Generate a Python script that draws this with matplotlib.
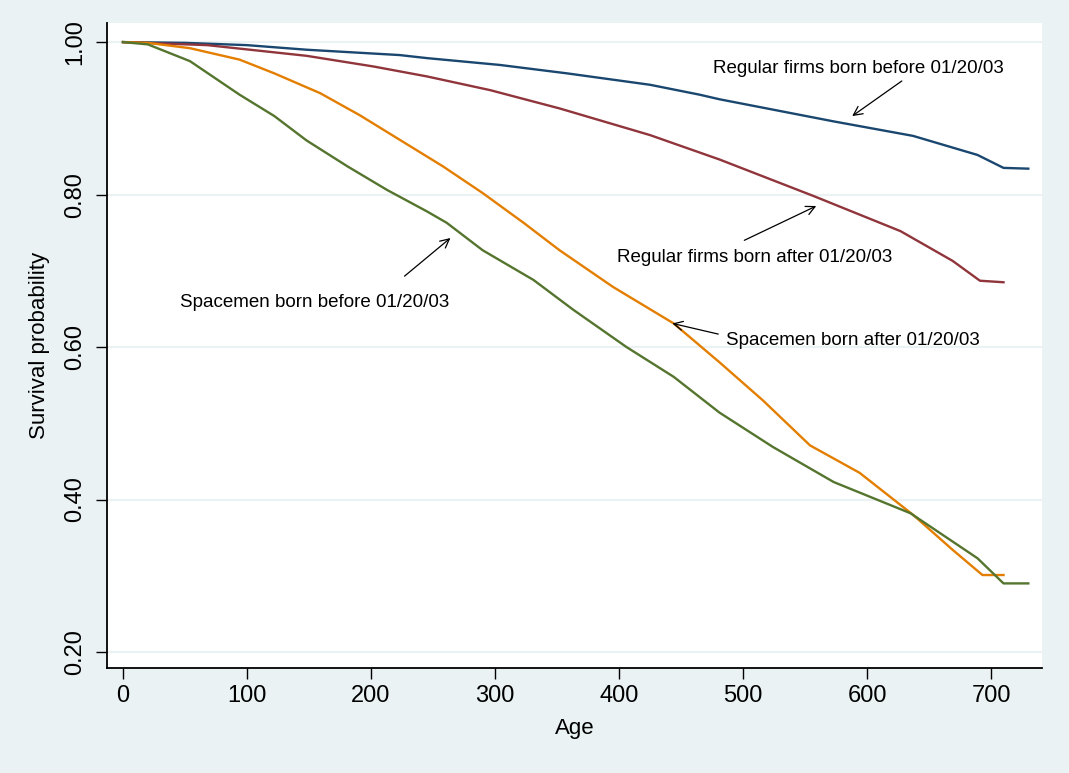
import matplotlib
matplotlib.use("Agg")
import matplotlib.pyplot as plt

plt.rcParams['font.family'] = ['Liberation Sans', 'DejaVu Sans']

# Kaplan-Meier survival estimates
reg_before_age = [0, 50, 100, 148, 223, 245, 304, 358, 425, 465, 481, 573, 637, 689, 710, 730]
reg_before_s = [1.0, 0.999, 0.996, 0.990, 0.983, 0.979, 0.970, 0.959, 0.944, 0.931, 0.925,
                0.896, 0.877, 0.852, 0.835, 0.834]

reg_after_age = [0, 68, 148, 202, 245, 296, 352, 425, 481, 557, 627, 669, 691, 710]
reg_after_s = [1.0, 0.996, 0.982, 0.968, 0.955, 0.937, 0.913, 0.878, 0.846, 0.798, 0.752,
               0.713, 0.687, 0.685]

space_after_age = [0, 20, 54, 94, 122, 159, 191, 218, 258, 290, 323, 352, 395, 444, 481, 516,
                   554, 594, 637, 669, 693, 710]
space_after_s = [1.0, 0.999, 0.992, 0.977, 0.959, 0.933, 0.904, 0.877, 0.837, 0.802, 0.763,
                 0.727, 0.679, 0.631, 0.580, 0.530, 0.471, 0.435, 0.380, 0.334, 0.301, 0.301]

space_before_age = [0, 20, 54, 94, 122, 148, 181, 213, 245, 261, 290, 331, 363, 406, 444, 481,
                    524, 573, 635, 689, 710, 730]
space_before_s = [1.0, 0.997, 0.975, 0.931, 0.903, 0.871, 0.837, 0.806, 0.778, 0.763, 0.727,
                  0.688, 0.649, 0.600, 0.561, 0.514, 0.469, 0.423, 0.382, 0.323, 0.290, 0.290]

xticks = [0, 100, 200, 300, 400, 500, 600, 700]
yticks = [0.2, 0.4, 0.6, 0.8, 1.0]

bg = '#EAF2F3'
fig = plt.figure(figsize=(10.69, 7.73), dpi=100, facecolor=bg)
ax = fig.add_axes([0.1001, 0.1358, 0.8746, 0.8344])
ax.set_facecolor('white')

for y in yticks:
    ax.axhline(y, color=bg, lw=1.5, zorder=0)

ax.plot(reg_before_age, reg_before_s, color='#1A476F', lw=1.7)
ax.plot(reg_after_age, reg_after_s, color='#90353B', lw=1.7)
ax.plot(space_after_age, space_after_s, color='#E37E00', lw=1.7)
ax.plot(space_before_age, space_before_s, color='#55752F', lw=1.7)

arrow = dict(arrowstyle='->', color='black', lw=0.9, mutation_scale=16, shrinkA=0, shrinkB=0)
ax.annotate('', xy=(588, 0.903), xytext=(628, 0.949), arrowprops=arrow)
ax.annotate('', xy=(559, 0.785), xytext=(501, 0.740), arrowprops=arrow)
ax.annotate('', xy=(264, 0.743), xytext=(227, 0.693), arrowprops=arrow)
ax.annotate('', xy=(443, 0.631), xytext=(480, 0.617), arrowprops=arrow)

fs = 13.5
ax.text(476, 0.966, 'Regular firms born before 01/20/03', fontsize=fs, va='center', ha='left')
ax.text(398, 0.718, 'Regular firms born after 01/20/03', fontsize=fs, va='center', ha='left')
ax.text(46, 0.658, 'Spacemen born before 01/20/03', fontsize=fs, va='center', ha='left')
ax.text(486, 0.609, 'Spacemen born after 01/20/03', fontsize=fs, va='center', ha='left')

ax.set_xlim(-12.9, 741)
ax.set_ylim(0.179, 1.025)
ax.set_xticks(xticks)
ax.set_yticks(yticks)
ax.set_yticklabels(['%.2f' % v for v in yticks], rotation=90, va='center')
ax.tick_params(axis='both', direction='out', length=8, width=1, labelsize=17, color='black')
ax.tick_params(axis='y', pad=7)
ax.tick_params(axis='x', pad=4)

ax.set_xlabel('Age', fontsize=16, labelpad=8)
ax.set_ylabel('Survival probability', fontsize=16, labelpad=10)

for side in ['top', 'right']:
    ax.spines[side].set_visible(False)
for side in ['left', 'bottom']:
    ax.spines[side].set_linewidth(1.3)

fig.savefig('out.png', dpi=100, facecolor=bg)
